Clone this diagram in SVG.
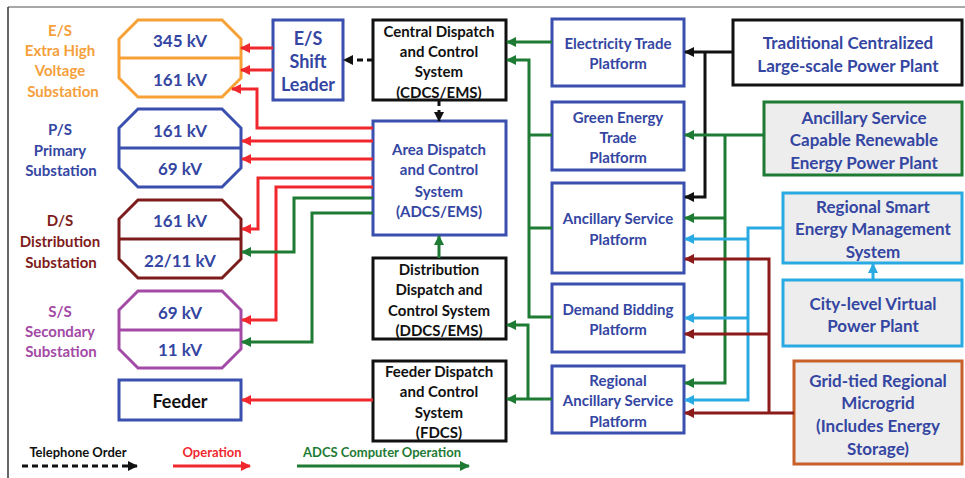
<svg xmlns="http://www.w3.org/2000/svg" width="965" height="478" viewBox="0 0 965 478">
<style>
text{font-family:"Lato","Liberation Sans",sans-serif;font-weight:bold;text-anchor:middle;dominant-baseline:central}
.t15{font-size:15px}.t16{font-size:16px}.t17{font-size:17px}.t18{font-size:18px}
.blue{fill:#3446A2}.blk{fill:#111}.org{fill:#F5A03A}.prp{fill:#A34AA6}.drd{fill:#7E1C1C}.red{fill:#F0282D}.grn{fill:#1E7B34}
.box{fill:#fff;stroke-width:3}
.bb{stroke:#3A4FAE}.kb{stroke:#111}
.gray{fill:#EDEDED;stroke-width:3}
.ln{fill:none;stroke-width:3}
.r{stroke:#F0282D}.g{stroke:#1E7B34}.k{stroke:#111}.c{stroke:#2AAAE2}.d{stroke:#8B1A1A}
.dash{stroke-dasharray:6 4}
</style>
<defs>
<marker id="aR" markerUnits="userSpaceOnUse" markerWidth="10" markerHeight="10" viewBox="0 0 10 10" refX="9" refY="5" orient="auto"><path d="M0,0L10,5L0,10z" fill="#F0282D"/></marker>
<marker id="aG" markerUnits="userSpaceOnUse" markerWidth="10" markerHeight="10" viewBox="0 0 10 10" refX="9" refY="5" orient="auto"><path d="M0,0L10,5L0,10z" fill="#1E7B34"/></marker>
<marker id="aK" markerUnits="userSpaceOnUse" markerWidth="10" markerHeight="10" viewBox="0 0 10 10" refX="9" refY="5" orient="auto"><path d="M0,0L10,5L0,10z" fill="#111"/></marker>
<marker id="aC" markerUnits="userSpaceOnUse" markerWidth="10" markerHeight="10" viewBox="0 0 10 10" refX="9" refY="5" orient="auto"><path d="M0,0L10,5L0,10z" fill="#2AAAE2"/></marker>
<marker id="aD" markerUnits="userSpaceOnUse" markerWidth="10" markerHeight="10" viewBox="0 0 10 10" refX="9" refY="5" orient="auto"><path d="M0,0L10,5L0,10z" fill="#8B1A1A"/></marker>
</defs>
<rect width="965" height="478" fill="#fff"/>
<path d="M8,7H965" stroke="#8a8a8a" stroke-width="1.5" fill="none"/>
<path d="M8,7V478" stroke="#333" stroke-width="1.5" fill="none"/>

<g id="es">
<polygon points="138,20 222,20 241,39 241,78 222,97 138,97 119,78 119,39" fill="#fff" stroke="#F7A035" stroke-width="3"/>
<path d="M119,58H241" stroke="#F7A035" stroke-width="3"/>
<text x="180" y="40" class="t17 blue">345 kV</text>
<text x="180" y="79" class="t17 blue">161 kV</text>
<text x="60" y="30" class="t15 org">E/S</text>
<text x="60" y="50" class="t15 org">Extra High</text>
<text x="60" y="70" class="t15 org">Voltage</text>
<text x="63" y="91" class="t15 org">Substation</text>
</g>
<g id="ps">
<polygon points="138,109 222,109 241,128 241,168 222,187 138,187 119,168 119,128" fill="#fff" stroke="#3A4FAE" stroke-width="3"/>
<path d="M119,148H241" stroke="#3A4FAE" stroke-width="3"/>
<text x="180" y="130" class="t17 blue">161 kV</text>
<text x="180" y="168" class="t17 blue">69 kV</text>
<text x="60" y="129" class="t15 blue">P/S</text>
<text x="60" y="150" class="t15 blue">Primary</text>
<text x="61" y="170" class="t15 blue">Substation</text>
</g>
<g id="ds">
<polygon points="138,200 222,200 241,219 241,259 222,278 138,278 119,259 119,219" fill="#fff" stroke="#7E1C1C" stroke-width="3"/>
<path d="M119,239H241" stroke="#7E1C1C" stroke-width="3"/>
<text x="180" y="220" class="t17 blue">161 kV</text>
<text x="180" y="260" class="t17 blue">22/11 kV</text>
<text x="60" y="220" class="t15 drd">D/S</text>
<text x="60" y="241" class="t15 drd">Distribution</text>
<text x="61" y="262" class="t15 drd">Substation</text>
</g>
<g id="ss">
<polygon points="138,291 222,291 241,310 241,349 222,368 138,368 119,349 119,310" fill="#fff" stroke="#A34AA6" stroke-width="3"/>
<path d="M119,330H241" stroke="#A34AA6" stroke-width="3"/>
<text x="180" y="312" class="t17 blue">69 kV</text>
<text x="180" y="349" class="t17 blue">11 kV</text>
<text x="60" y="311" class="t15 prp">S/S</text>
<text x="60" y="331" class="t15 prp">Secondary</text>
<text x="61" y="351" class="t15 prp">Substation</text>
</g>
<g id="feeder">
<rect x="119" y="380" width="122" height="40" class="box bb"/>
<text x="180" y="401" class="t18 blk">Feeder</text>
</g>
<g id="shift">
<rect x="273" y="20" width="70" height="80" class="box bb"/>
<text x="308" y="38" class="t18 blue">E/S</text>
<text x="308" y="61" class="t18 blue">Shift</text>
<text x="308" y="84" class="t18 blue">Leader</text>
</g>
<g id="cdcs">
<rect x="373" y="20" width="133" height="80" class="box kb"/>
<text x="439" y="31" class="t15 blk">Central Dispatch</text>
<text x="439" y="51" class="t15 blk">and Control</text>
<text x="439" y="71" class="t15 blk">System</text>
<text x="439" y="92" class="t15 blk">(CDCS/EMS)</text>
</g>
<g id="adcs">
<rect x="373" y="121" width="133" height="114" class="box bb"/>
<text x="439" y="149" class="t15 blue">Area Dispatch</text>
<text x="439" y="169" class="t15 blue">and Control</text>
<text x="439" y="191" class="t15 blue">System</text>
<text x="439" y="211" class="t15 blue">(ADCS/EMS)</text>
</g>
<g id="ddcs">
<rect x="373" y="258" width="133" height="81" class="box kb"/>
<text x="439" y="269" class="t15 blk">Distribution</text>
<text x="439" y="289" class="t15 blk">Dispatch and</text>
<text x="439" y="310" class="t15 blk">Control System</text>
<text x="439" y="330" class="t15 blk">(DDCS/EMS)</text>
</g>
<g id="fdcs">
<rect x="373" y="361" width="133" height="80" class="box kb"/>
<text x="439" y="371" class="t15 blk">Feeder Dispatch</text>
<text x="439" y="391" class="t15 blk">and Control</text>
<text x="439" y="412" class="t15 blk">System</text>
<text x="439" y="432" class="t15 blk">(FDCS)</text>
</g>
<g id="etp">
<rect x="552" y="19" width="132" height="67" class="box bb"/>
<text x="618" y="43" class="t15 blue">Electricity Trade</text>
<text x="618" y="63" class="t15 blue">Platform</text>
</g>
<g id="getp">
<rect x="552" y="102" width="132" height="68" class="box bb"/>
<text x="618" y="117" class="t15 blue">Green Energy</text>
<text x="618" y="137" class="t15 blue">Trade</text>
<text x="618" y="157" class="t15 blue">Platform</text>
</g>
<g id="asp">
<rect x="552" y="183" width="132" height="90" class="box bb"/>
<text x="618" y="218" class="t15 blue">Ancillary Service</text>
<text x="618" y="239" class="t15 blue">Platform</text>
</g>
<g id="dbp">
<rect x="552" y="284" width="132" height="68" class="box bb"/>
<text x="618" y="309" class="t15 blue">Demand Bidding</text>
<text x="618" y="329" class="t15 blue">Platform</text>
</g>
<g id="rasp">
<rect x="552" y="366" width="132" height="67" class="box bb"/>
<text x="618" y="380" class="t15 blue">Regional</text>
<text x="618" y="400" class="t15 blue">Ancillary Service</text>
<text x="618" y="421" class="t15 blue">Platform</text>
</g>
<g id="tclp">
<rect x="733" y="20" width="229" height="65" class="box kb"/>
<text x="848" y="42" class="t17 blue">Traditional Centralized</text>
<text x="848" y="65" class="t17 blue">Large-scale Power Plant</text>
</g>
<g id="ascr">
<rect x="764" y="102" width="198" height="73" class="gray" stroke="#1E7B34"/>
<text x="864" y="117" class="t17 blue">Ancillary Service</text>
<text x="864" y="139" class="t17 blue">Capable Renewable</text>
<text x="864" y="162" class="t17 blue">Energy Power Plant</text>
</g>
<g id="rsems">
<rect x="783" y="193" width="179" height="70" class="gray" stroke="#2AAAE2"/>
<text x="873" y="206" class="t17 blue">Regional Smart</text>
<text x="873" y="228" class="t17 blue">Energy Management</text>
<text x="873" y="251" class="t17 blue">System</text>
</g>
<g id="vpp">
<rect x="783" y="280" width="179" height="66" class="gray" stroke="#2AAAE2"/>
<text x="873" y="303" class="t17 blue">City-level Virtual</text>
<text x="873" y="325" class="t17 blue">Power Plant</text>
</g>
<g id="micro">
<rect x="794" y="361" width="168" height="103" class="gray" stroke="#C8602A"/>
<text x="878" y="380" class="t17 blue">Grid-tied Regional</text>
<text x="878" y="402" class="t17 blue">Microgrid</text>
<text x="878" y="425" class="t17 blue">(Includes  Energy</text>
<text x="878" y="448" class="t17 blue">Storage)</text>
</g>

<g id="connectors">
<path class="ln r" d="M273,48H241" marker-end="url(#aR)"/>
<path class="ln r" d="M273,70H241" marker-end="url(#aR)"/>
<path class="ln k dash" d="M373,60H344" marker-end="url(#aK)"/>
<path class="ln k dash" d="M439,100V121" marker-end="url(#aK)"/>
<path class="ln r" d="M373,128H257V89H232" marker-end="url(#aR)"/>
<path class="ln r" d="M373,141H242" marker-end="url(#aR)"/>
<path class="ln r" d="M373,159H242" marker-end="url(#aR)"/>
<path class="ln r" d="M373,178H258V229H242" marker-end="url(#aR)"/>
<path class="ln r" d="M373,187H276V320H242" marker-end="url(#aR)"/>
<path class="ln g" d="M373,198H294V252H242" marker-end="url(#aG)"/>
<path class="ln g" d="M373,213H312V342H242" marker-end="url(#aG)"/>
<path class="ln r" d="M373,400H242" marker-end="url(#aR)"/>
<path class="ln g" d="M439,258V236" marker-end="url(#aG)"/>
<path class="ln g" d="M552,42H507" marker-end="url(#aG)"/>
<path class="ln g" d="M552,317H529V60H507" marker-end="url(#aG)"/>
<path class="ln g" d="M552,135H529"/>
<path class="ln g" d="M552,228H529"/>
<path class="ln g" d="M552,399H507" marker-end="url(#aG)"/>
<path class="ln g" d="M528,399V325H507" marker-end="url(#aG)"/>
<path class="ln k" d="M733,52H685" marker-end="url(#aK)"/>
<path class="ln k" d="M705,52V197H685" marker-end="url(#aK)"/>
<path class="ln g" d="M764,135H685" marker-end="url(#aG)"/>
<path class="ln g" d="M725,135V383H685" marker-end="url(#aG)"/>
<path class="ln g" d="M725,218H685" marker-end="url(#aG)"/>
<path class="ln c" d="M783,228H748V400H685" marker-end="url(#aC)"/>
<path class="ln c" d="M748,239H685" marker-end="url(#aC)"/>
<path class="ln c" d="M748,318H685" marker-end="url(#aC)"/>
<path class="ln c" d="M873,280V264" marker-end="url(#aC)"/>
<path class="ln d" d="M794,413H685" marker-end="url(#aD)"/>
<path class="ln d" d="M769,413V259H685" marker-end="url(#aD)"/>
<path class="ln d" d="M769,334H685" marker-end="url(#aD)"/>
</g>

<g id="legend">
<text x="78" y="452" class="t15 blk" style="font-size:13px">Telephone Order</text>
<path class="ln k dash" d="M22,466H137" marker-end="url(#aK)"/>
<text x="212" y="452" class="red" style="font-size:13px">Operation</text>
<path class="ln r" d="M173,466H250" marker-end="url(#aR)"/>
<text x="382" y="452" class="grn" style="font-size:13px">ADCS Computer Operation</text>
<path class="ln g" d="M297,466H469" marker-end="url(#aG)"/>
</g>
</svg>
